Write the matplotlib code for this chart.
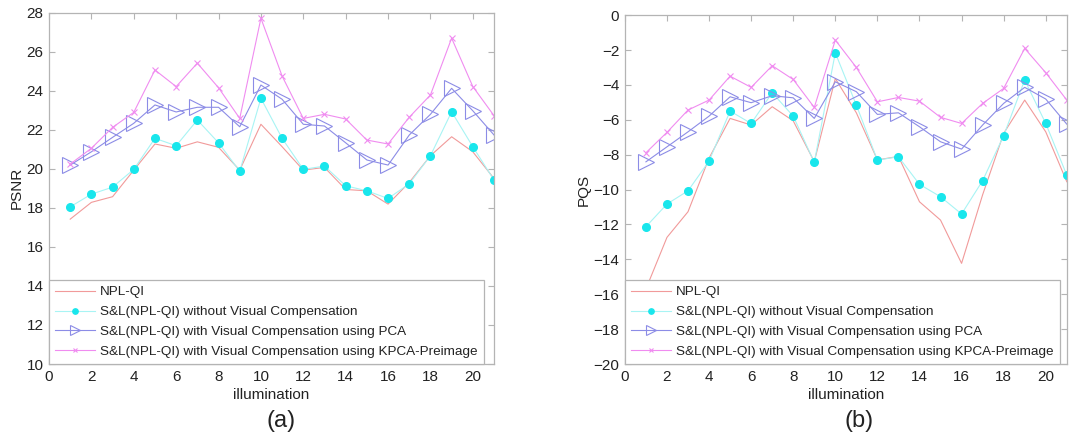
import numpy as np
import matplotlib
matplotlib.use('Agg')
import matplotlib.pyplot as plt

plt.rcParams['font.family'] = ['Liberation Sans', 'DejaVu Sans']

illum = np.arange(1, 22)

labels = ['NPL-QI',
          'S&L(NPL-QI) without Visual Compensation',
          'S&L(NPL-QI) with Visual Compensation using PCA',
          'S&L(NPL-QI) with Visual Compensation using KPCA-Preimage']

# (a) PSNR
psnr_npl = [17.42, 18.28, 18.57, 19.93, 21.27, 21.05, 21.38, 21.10, 19.93, 22.28, 21.13,
            19.93, 20.07, 18.94, 18.87, 18.19, 19.30, 20.67, 21.64, 20.87, 19.50]
psnr_sl = [18.05, 18.70, 19.06, 19.97, 21.56, 21.18, 22.50, 21.33, 19.87, 23.61, 21.56,
           19.97, 20.14, 19.13, 18.87, 18.48, 19.23, 20.67, 22.92, 21.13, 19.42]
psnr_pca = [20.19, 20.87, 21.61, 22.33, 23.27, 22.91, 23.15, 23.15, 22.15, 24.29, 23.56,
            22.28, 22.19, 21.33, 20.45, 20.19, 21.73, 22.79, 24.12, 22.97, 21.73]
psnr_kpca = [20.24, 21.05, 22.12, 22.89, 25.06, 24.21, 25.41, 24.15, 22.58, 27.71, 24.75,
             22.58, 22.79, 22.55, 21.47, 21.27, 22.64, 23.78, 26.69, 24.21, 22.72]

# (b) PQS
pqs_npl = [-15.70, -12.74, -11.27, -8.20, -5.92, -6.30, -5.25, -6.06, -8.40, -3.63, -5.60,
           -8.30, -8.10, -10.70, -11.75, -14.23, -10.30, -6.78, -4.87, -6.69, -9.55]
pqs_sl = [-12.13, -10.83, -10.07, -8.37, -5.50, -6.21, -4.45, -5.79, -8.44, -2.16, -5.16,
          -8.31, -8.12, -9.70, -10.41, -11.40, -9.49, -6.91, -3.72, -6.21, -9.17]
pqs_pca = [-8.41, -7.55, -6.69, -5.79, -4.68, -5.02, -4.62, -4.74, -5.92, -3.82, -4.39,
           -5.69, -5.60, -6.40, -7.26, -7.68, -6.30, -5.06, -4.14, -4.81, -6.25]
pqs_kpca = [-7.89, -6.72, -5.44, -4.87, -3.50, -4.14, -2.90, -3.69, -5.29, -1.43, -3.00,
            -4.97, -4.72, -4.93, -5.86, -6.21, -5.06, -4.20, -1.91, -3.30, -4.87]

spine_col = '#b4b4b4'


def draw(ax, npl, sl, pca, kpca, ylim, ylabel):
    ax.plot(illum, npl, color='#f19a9a', lw=0.8, label=labels[0])
    ax.plot(illum, sl, color='#a8f4f4', lw=0.8, marker='o', ms=5.5,
            mfc='#19e6ec', mec='#19e6ec', label=labels[1])
    ax.plot(illum, pca, color='#8c8ce6', lw=0.8, marker='>', ms=11,
            mfc='none', mec='#8c8ce6', mew=0.8, label=labels[2])
    ax.plot(illum, kpca, color='#f08cf0', lw=0.8, marker='x', ms=4,
            mec='#f08cf0', mew=0.8, label=labels[3])
    ax.set_xlim(0, 21)
    ax.set_ylim(*ylim)
    ax.set_xticks(np.arange(0, 21, 2))
    ax.set_yticks(np.arange(ylim[0], ylim[1] + 1, 2))
    ax.tick_params(direction='in', length=4, color=spine_col, labelsize=11,
                   top=True, right=True, labelcolor='#222222', pad=4)
    for s in ax.spines.values():
        s.set_color(spine_col)
        s.set_linewidth(0.9)
    ax.set_xlabel('illumination', fontsize=11, color='#222222', labelpad=3)
    ax.set_ylabel(ylabel, fontsize=11, color='#222222', labelpad=2)
    leg = ax.legend(loc='lower left', bbox_to_anchor=(0, 0), borderaxespad=0,
                    fontsize=9.7, handlelength=3.0, handletextpad=0.35,
                    labelspacing=0.55, fancybox=False, framealpha=1,
                    edgecolor=spine_col, borderpad=0.45, markerscale=0.7)
    leg.get_frame().set_linewidth(0.9)
    for t in leg.get_texts():
        t.set_color('#222222')


fig = plt.figure(figsize=(10.7, 4.45), dpi=100)
ax1 = fig.add_axes([0.0458, 0.182, 0.4159, 0.7897])
ax2 = fig.add_axes([0.584, 0.182, 0.413, 0.784])

draw(ax1, psnr_npl, psnr_sl, psnr_pca, psnr_kpca, (10, 28), 'PSNR')
draw(ax2, pqs_npl, pqs_sl, pqs_pca, pqs_kpca, (-20, 0), 'PQS')

fig.text(281 / 1070, 1 - 421 / 445, '(a)', fontsize=17, ha='center', va='center',
         color='#222222')
fig.text(859 / 1070, 1 - 421 / 445, '(b)', fontsize=17, ha='center', va='center',
         color='#222222')

fig.savefig('out.png', dpi=100)
